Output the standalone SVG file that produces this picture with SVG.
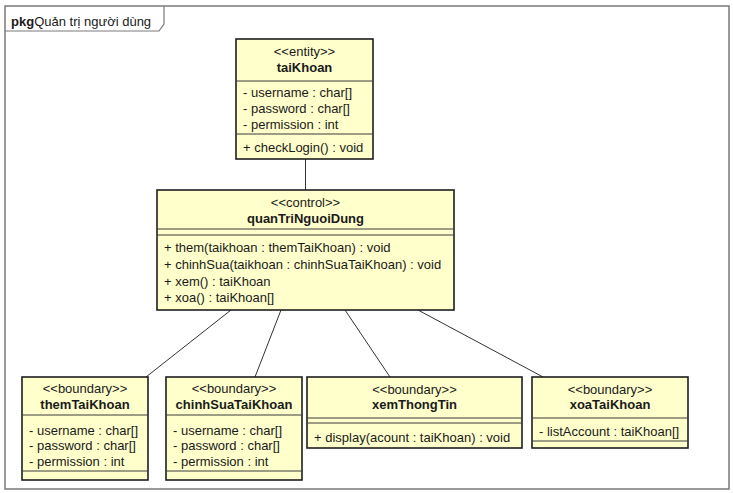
<svg xmlns="http://www.w3.org/2000/svg" width="733" height="493" viewBox="0 0 733 493">
  <style>
    text { font-family: "Liberation Sans", Arial, sans-serif; font-size: 13px; fill: #1a1a1a; }
    .c { text-anchor: middle; }
    .b { font-weight: bold; }
    .box { fill: #FFFFCC; stroke: #1e1e1e; stroke-width: 1.6; }
    .sep { stroke: #3a3a3a; stroke-width: 1; }
    .link { stroke: #333333; stroke-width: 1; fill: none; }
    .frame { fill: #ffffff; stroke: #7a7a7a; stroke-width: 1.5; }
  </style>

  <!-- package frame -->
  <g id="package">
    <rect class="frame" x="5" y="6" width="724" height="483"/>
    <path d="M5 31 H159 L164 24 V6" fill="none" stroke="#7a7a7a" stroke-width="1.2"/>
    <text x="11" y="26"><tspan class="b">pkg</tspan>Quản trị người dùng</text>
  </g>

  <!-- connectors -->
  <g id="connectors">
    <line class="link" x1="305.5" y1="159" x2="305.5" y2="190"/>
    <line class="link" x1="231" y1="310" x2="146" y2="377"/>
    <line class="link" x1="281" y1="310" x2="255" y2="377"/>
    <line class="link" x1="345" y1="310" x2="390" y2="377"/>
    <line class="link" x1="418" y1="310" x2="543" y2="377"/>
  </g>

  <g id="taiKhoan">
    <rect class="box" x="236" y="39" width="137" height="120"/>
    <text class="c" x="304.5" y="56">&lt;&lt;entity&gt;&gt;</text>
    <text class="c b" x="304.5" y="72">taiKhoan</text>
    <line class="sep" x1="236" y1="81" x2="373" y2="81"/>
    <text x="243" y="97">- username : char[]</text>
    <text x="243" y="113">- password : char[]</text>
    <text x="243" y="129">- permission : int</text>
    <line class="sep" x1="236" y1="134" x2="373" y2="134"/>
    <text x="243" y="152">+ checkLogin() : void</text>
  </g>

  <g id="quanTriNguoiDung">
    <rect class="box" x="157" y="190" width="297" height="120"/>
    <text class="c" x="305.5" y="207">&lt;&lt;control&gt;&gt;</text>
    <text class="c b" x="305.5" y="223">quanTriNguoiDung</text>
    <line class="sep" x1="157" y1="229" x2="454" y2="229"/>
    <line class="sep" x1="157" y1="235" x2="454" y2="235"/>
    <text x="164" y="252">+ them(taikhoan : themTaiKhoan) : void</text>
    <text x="164" y="269">+ chinhSua(taikhoan : chinhSuaTaiKhoan) : void</text>
    <text x="164" y="286">+ xem() : taiKhoan</text>
    <text x="164" y="302">+ xoa() : taiKhoan[]</text>
  </g>

  <g id="themTaiKhoan">
    <rect class="box" x="22" y="377" width="126" height="103"/>
    <text class="c" x="85" y="393">&lt;&lt;boundary&gt;&gt;</text>
    <text class="c b" x="85" y="409">themTaiKhoan</text>
    <line class="sep" x1="22" y1="415" x2="148" y2="415"/>
    <text x="29" y="435">- username : char[]</text>
    <text x="29" y="450">- password : char[]</text>
    <text x="29" y="466">- permission : int</text>
    <line class="sep" x1="22" y1="471" x2="148" y2="471"/>
  </g>

  <g id="chinhSuaTaiKhoan">
    <rect class="box" x="166" y="377" width="136" height="103"/>
    <text class="c" x="234" y="393">&lt;&lt;boundary&gt;&gt;</text>
    <text class="c b" x="234" y="409">chinhSuaTaiKhoan</text>
    <line class="sep" x1="166" y1="415" x2="302" y2="415"/>
    <text x="173" y="435">- username : char[]</text>
    <text x="173" y="450">- password : char[]</text>
    <text x="173" y="466">- permission : int</text>
    <line class="sep" x1="166" y1="471" x2="302" y2="471"/>
  </g>

  <g id="xemThongTin">
    <rect class="box" x="307" y="377" width="215" height="71"/>
    <text class="c" x="414.5" y="394">&lt;&lt;boundary&gt;&gt;</text>
    <text class="c b" x="414.5" y="409">xemThongTin</text>
    <line class="sep" x1="307" y1="418" x2="522" y2="418"/>
    <line class="sep" x1="307" y1="423" x2="522" y2="423"/>
    <text x="314" y="442">+ display(acount : taiKhoan) : void</text>
  </g>

  <g id="xoaTaiKhoan">
    <rect class="box" x="532" y="377" width="156" height="71"/>
    <text class="c" x="610" y="394">&lt;&lt;boundary&gt;&gt;</text>
    <text class="c b" x="610" y="409">xoaTaiKhoan</text>
    <line class="sep" x1="532" y1="418" x2="688" y2="418"/>
    <text x="539" y="436">- listAccount : taiKhoan[]</text>
    <line class="sep" x1="532" y1="441" x2="688" y2="441"/>
  </g>
</svg>
